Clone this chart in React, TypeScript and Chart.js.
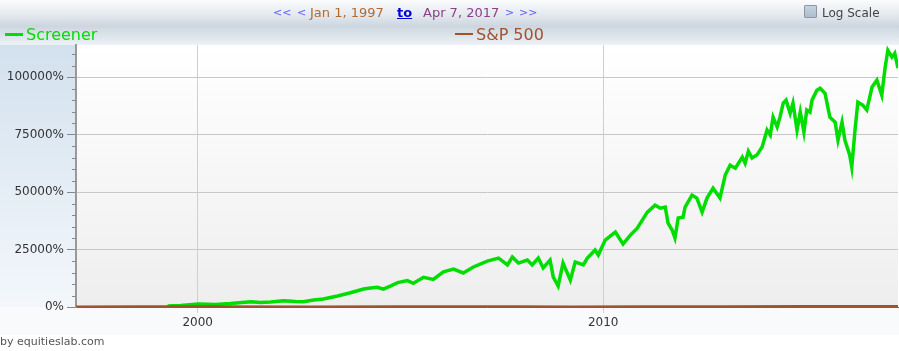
import React, { useEffect, useRef } from "react";
import { Chart, registerables } from "chart.js";

Chart.register(...registerables);

// ---- data ----
const screenerYears = [
  1999.26, 1999.58, 2000.02, 2000.44, 2000.81, 2001.31, 2001.55, 2001.8, 2002.12, 2002.41,
  2002.61, 2002.86, 2003.1, 2003.45, 2003.77, 2004.09, 2004.26, 2004.43, 2004.58, 2004.75,
  2004.93, 2005.17, 2005.32, 2005.57, 2005.81, 2006.06, 2006.31, 2006.55, 2006.8, 2007.14,
  2007.42, 2007.64, 2007.76, 2007.91, 2008.13, 2008.25, 2008.4, 2008.52, 2008.69, 2008.77,
  2008.89, 2009.01, 2009.19, 2009.31, 2009.51, 2009.61, 2009.8, 2009.88, 2010.05, 2010.3,
  2010.49, 2010.67, 2010.84, 2011.09, 2011.28, 2011.41, 2011.53, 2011.6, 2011.7, 2011.77,
  2011.85, 2011.97, 2012.02, 2012.19, 2012.31, 2012.44, 2012.56, 2012.71, 2012.88, 2013.01,
  2013.13, 2013.26, 2013.43, 2013.5, 2013.58, 2013.67, 2013.79, 2013.92, 2014.04, 2014.12,
  2014.19, 2014.29, 2014.36, 2014.44, 2014.51, 2014.61, 2014.68, 2014.78, 2014.86, 2014.95,
  2015.02, 2015.1, 2015.15, 2015.27, 2015.35, 2015.47, 2015.59, 2015.72, 2015.79, 2015.89,
  2015.96, 2016.08, 2016.13, 2016.21, 2016.28, 2016.4, 2016.5, 2016.63, 2016.75, 2016.87,
  2016.95, 2017.02, 2017.12, 2017.19, 2017.27,
];
const screenerValues = [
  400, 650, 1300, 1100, 1500, 2300, 2000, 2200, 2700, 2400,
  2300, 3000, 3500, 4800, 6200, 7800, 8300, 8600, 7800, 9100,
  10600, 11500, 10300, 12900, 12000, 15300, 16500, 14800, 17400, 20000,
  21300, 18300, 21700, 19100, 20400, 18300, 21300, 17000, 20400, 13000,
  9100, 19100, 11700, 19600, 18300, 21300, 24800, 22600, 29100, 32600,
  27400, 31300, 34300, 41300, 44300, 43000, 43500, 36500, 33500, 30000,
  38700, 39100, 43500, 48700, 47400, 41300, 47400, 51700, 47400, 57400,
  61700, 60400, 65200, 62600, 67800, 64800, 66100, 69600, 77000, 74800,
  82600, 78300, 82600, 88700, 90000, 84300, 88700, 77000, 84800, 76100,
  85700, 84800, 90000, 94300, 95200, 93000, 82600, 80400, 72600, 80400,
  72600, 66100, 60900, 77000, 89100, 87800, 85700, 95700, 98700, 92200,
  103900, 111700, 108700, 110400, 103900,
];
const spYears = [1997, 1998.5, 2000.2, 2002.8, 2005, 2007.8, 2009.2, 2011, 2013, 2015, 2017.27];
const spValues = [0, 60, 110, 20, 60, 120, 10, 80, 130, 180, 240];

const xTickYears = [2000, 2010];
const yTickValues = [0, 25000, 50000, 75000, 100000];
const xMin = 1997;
const xMax = 2017.27;
const yMax = 114000;
const yMinorStep = 5000;

const FONT = "'DejaVu Sans', Verdana, sans-serif";
const GREEN = "#00dd00";
const BROWN = "#a0522d";

const plotBg = {
  id: "plotBg",
  beforeDraw(chart: any) {
    const { ctx, chartArea: a } = chart;
    const g = ctx.createLinearGradient(0, a.top, 0, a.bottom);
    g.addColorStop(0, "#ffffff");
    g.addColorStop(1, "#eeeeee");
    ctx.save();
    ctx.fillStyle = g;
    ctx.fillRect(a.left, a.top, a.right - a.left, a.bottom - a.top);
    ctx.restore();
  },
};

const minorTicks = {
  id: "minorTicks",
  afterDraw(chart: any) {
    const { ctx, chartArea: a } = chart;
    const y = chart.scales.y;
    ctx.save();
    ctx.strokeStyle = "#888";
    ctx.lineWidth = 1;
    for (let v = yMinorStep; v < yMax; v += yMinorStep) {
      if (v % 25000 === 0) continue;
      const py = Math.round(y.getPixelForValue(v)) + 0.5;
      ctx.beginPath();
      ctx.moveTo(a.left - 4, py);
      ctx.lineTo(a.left, py);
      ctx.stroke();
    }
    ctx.restore();
  },
};

export default function App() {
  const ref = useRef<HTMLCanvasElement | null>(null);

  useEffect(() => {
    if (!ref.current) return;
    const chart = new Chart(ref.current, {
      type: "line",
      data: {
        datasets: [
          {
            label: "S&P 500",
            data: spYears.map((x, i) => ({ x, y: spValues[i] })),
            borderColor: BROWN,
            borderWidth: 3,
            pointRadius: 0,
            tension: 0,
          },
          {
            label: "Screener",
            data: screenerYears.map((x, i) => ({ x, y: screenerValues[i] })),
            borderColor: GREEN,
            borderWidth: 3.5,
            pointRadius: 0,
            tension: 0,
          },
        ],
      },
      options: {
        animation: false,
        responsive: false,
        maintainAspectRatio: false,
        layout: { padding: { top: 45, right: 1, bottom: 0, left: 0 } },
        plugins: { legend: { display: false }, tooltip: { enabled: false } },
        scales: {
          x: {
            type: "linear",
            min: xMin,
            max: xMax,
            afterBuildTicks: (s: any) => {
              s.ticks = xTickYears.map((v) => ({ value: v }));
            },
            afterFit: (s: any) => {
              s.height = 44;
            },
            ticks: {
              callback: (v: any) => String(v),
              font: { family: FONT, size: 12 },
              color: "#333",
              padding: 3,
              maxRotation: 0,
              autoSkip: false,
            },
            grid: { color: "#cfcfcf", tickLength: 6, tickColor: "#cfcfcf" },
            border: { color: "#666", width: 1 },
          },
          y: {
            min: 0,
            max: yMax,
            afterBuildTicks: (s: any) => {
              s.ticks = yTickValues.map((v) => ({ value: v }));
            },
            afterFit: (s: any) => {
              s.width = 76;
            },
            ticks: {
              callback: (v: any) => v + "%",
              font: { family: FONT, size: 12 },
              color: "#333",
              padding: 3,
              autoSkip: false,
            },
            grid: { color: "#c8c8c8", tickLength: 9, tickColor: "#888" },
            border: { color: "#999", width: 2 },
          },
        },
      },
      plugins: [plotBg, minorTicks],
    });
    return () => chart.destroy();
  }, []);

  const abs = (s: React.CSSProperties): React.CSSProperties => ({ position: "absolute", whiteSpace: "nowrap", ...s });

  return (
    <div
      style={{
        position: "fixed",
        left: 0,
        top: 0,
        width: 899,
        height: 351,
        overflow: "hidden",
        background: "#ffffff",
        fontFamily: FONT,
      }}
    >
      {/* header band */}
      <div
        style={abs({
          left: 0,
          top: 0,
          width: 899,
          height: 45,
          background:
            "linear-gradient(to bottom, #fbfcfd 0%, #e6ebf0 30%, #cdd6df 58%, #dde4eb 80%, #eef2f6 100%)",
        })}
      />
      {/* left axis panel */}
      <div
        style={abs({
          left: 0,
          top: 45,
          width: 76,
          height: 262,
          background: "linear-gradient(to bottom, #d3e1ee 0%, #f3f7fb 100%)",
        })}
      />
      {/* bottom axis band */}
      <div style={abs({ left: 0, top: 307, width: 899, height: 28, background: "#f8fafc" })} />

      <canvas
        ref={ref}
        width={899}
        height={351}
        style={{ position: "absolute", left: 0, top: 0, width: 899, height: 351 }}
      />

      {/* date navigation */}
      <div style={abs({ left: 0, top: 4, height: 17, fontSize: 13, lineHeight: "17px" })}>
        <span style={abs({ left: 273, top: 0, color: "#5b5bff", fontSize: 11 })}>&lt;&lt;</span>
        <span style={abs({ left: 297, top: 0, color: "#5b5bff", fontSize: 11 })}>&lt;</span>
        <span style={abs({ left: 310, top: 0, color: "#b2692e" })}>Jan 1, 1997</span>
        <span
          style={abs({
            left: 397,
            top: 0,
            color: "#0000dd",
            fontWeight: "bold",
            textDecoration: "underline",
          })}
        >
          to
        </span>
        <span style={abs({ left: 423, top: 0, color: "#8a3f88" })}>Apr 7, 2017</span>
        <span style={abs({ left: 505, top: 0, color: "#5b5bff", fontSize: 11 })}>&gt;</span>
        <span style={abs({ left: 519, top: 0, color: "#5b5bff", fontSize: 11 })}>&gt;&gt;</span>
      </div>

      {/* log scale checkbox */}
      <div
        style={abs({
          left: 804,
          top: 5,
          width: 11,
          height: 11,
          border: "1px solid #8a98a8",
          background: "linear-gradient(to bottom, #c6d2de, #aebdcc)",
          borderRadius: 1,
        })}
      />
      <span style={abs({ left: 822, top: 5, fontSize: 12, lineHeight: "16px", color: "#444" })}>Log Scale</span>

      {/* legend */}
      <div style={abs({ left: 5, top: 33, width: 18, height: 3, background: GREEN })} />
      <span style={abs({ left: 26, top: 25, fontSize: 16, lineHeight: "19px", color: GREEN })}>Screener</span>
      <div style={abs({ left: 455, top: 33, width: 18, height: 2, background: BROWN })} />
      <span style={abs({ left: 476, top: 25, fontSize: 16, lineHeight: "19px", color: BROWN })}>S&amp;P 500</span>

      {/* credit */}
      <span style={abs({ left: 0, top: 335, fontSize: 11, lineHeight: "14px", color: "#555" })}>by equitieslab.com</span>
    </div>
  );
}
